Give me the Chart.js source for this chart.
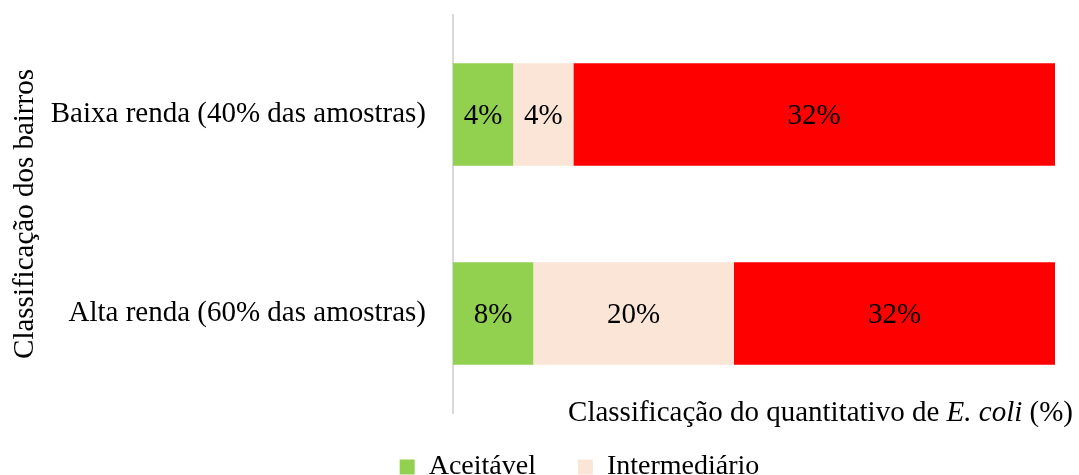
<!DOCTYPE html>
<html lang="pt">
<head>
<meta charset="utf-8">
<script src="https://cdn.jsdelivr.net/npm/chart.js@4.4.1/dist/chart.umd.min.js"></script>
<style>
  html, body { margin: 0; padding: 0; background: #fff; }
  #wrap { position: relative; width: 1079px; height: 475px; overflow: hidden; }
  #xTitle {
    position: absolute; right: 6px; top: 395px;
    font: 29px "Liberation Serif", "Times New Roman", serif;
    color: #000; white-space: nowrap; line-height: 1.15;
  }
</style>
</head>
<body>
<div id="wrap">
  <canvas id="chart" width="1079" height="475"></canvas>
  <div id="xTitle">Classificação do quantitativo de <i>E. coli</i> (%)</div>
</div>
<script>
/***********************
 * DATA
 ***********************/
const categories = ["Baixa renda (40% das amostras)", "Alta renda (60% das amostras)"];
const seriesNames = ["Aceitável", "Intermediário", "Inaceitável"];
const aceitavel = [4, 8];
const intermediario = [4, 20];
const inaceitavel = [32, 32];

const FONT = "'Liberation Serif', 'Times New Roman', serif";

// 100% stacked: each bar is scaled to its own total
const totals = categories.map((_, i) => aceitavel[i] + intermediario[i] + inaceitavel[i]);
const share = (arr) => arr.map((v, i) => (v / totals[i]) * 100);

/***********************
 * Plugins
 ***********************/
// values written in the middle of each segment
const barLabels = {
  id: "barLabels",
  afterDatasetsDraw(chart) {
    const ctx = chart.ctx;
    ctx.save();
    ctx.font = "29px " + FONT;
    ctx.fillStyle = "#000";
    ctx.textAlign = "center";
    ctx.textBaseline = "middle";
    chart.data.datasets.forEach((ds, di) => {
      chart.getDatasetMeta(di).data.forEach((bar, i) => {
        ctx.fillText(ds.rawValues[i] + "%", (bar.x + bar.base) / 2, bar.y + 2);
      });
    });
    ctx.restore();
  },
};

// legend: fixed height at the bottom and a small shift, like the original
const legendTweak = {
  id: "legendTweak",
  afterInit(chart) {
    const lg = chart.legend;
    if (!lg) return;
    const fit = lg.fit.bind(lg);
    lg.fit = function () {
      fit();
      this.height = 62;
    };
  },
  afterLayout(chart) {
    const lg = chart.legend;
    if (!lg) return;
    lg.left += 52;
    lg.right += 52;
    lg.top -= 2; // bottom stays at the canvas edge (legend clips to its box)
  },
};

/***********************
 * Chart
 ***********************/
const colors = ["#92D050", "#FBE5D6", "#FF0000"];
const rawSeries = [aceitavel, intermediario, inaceitavel];

new Chart(document.getElementById("chart"), {
  type: "bar",
  data: {
    labels: categories,
    datasets: seriesNames.map((name, k) => ({
      label: name,
      data: share(rawSeries[k]),
      rawValues: rawSeries[k],
      backgroundColor: colors[k],
      borderWidth: 0,
      categoryPercentage: 1,
      barPercentage: 0.515,
    })),
  },
  options: {
    indexAxis: "y",
    responsive: false,
    animation: false,
    layout: { padding: { top: 15, right: 24, left: 0, bottom: 0 } },
    plugins: {
      tooltip: { enabled: false },
      legend: {
        position: "bottom",
        labels: {
          font: { family: FONT, size: 28 },
          color: "#000",
          boxWidth: 15,
          boxHeight: 15,
          padding: 42,
          filter: (item) => item.datasetIndex < 2,
        },
      },
    },
    scales: {
      x: {
        display: false,
        stacked: true,
        min: 0,
        max: 100,
      },
      y: {
        stacked: true,
        ticks: { color: "#000", font: { family: FONT, size: 29 }, padding: 27 },
        grid: { display: false, drawTicks: false },
        border: { color: "#d9d9d9", width: 2 },
        title: {
          display: true,
          text: "Classificação dos bairros",
          color: "#000",
          font: { family: FONT, size: 29 },
          padding: { top: 8, bottom: 0 },
        },
        afterFit(scale) {
          scale.width = 453;
          scale.paddingTop = 0;
          scale.paddingBottom = 0;
        },
      },
    },
  },
  plugins: [barLabels, legendTweak],
});
</script>
</body>
</html>
